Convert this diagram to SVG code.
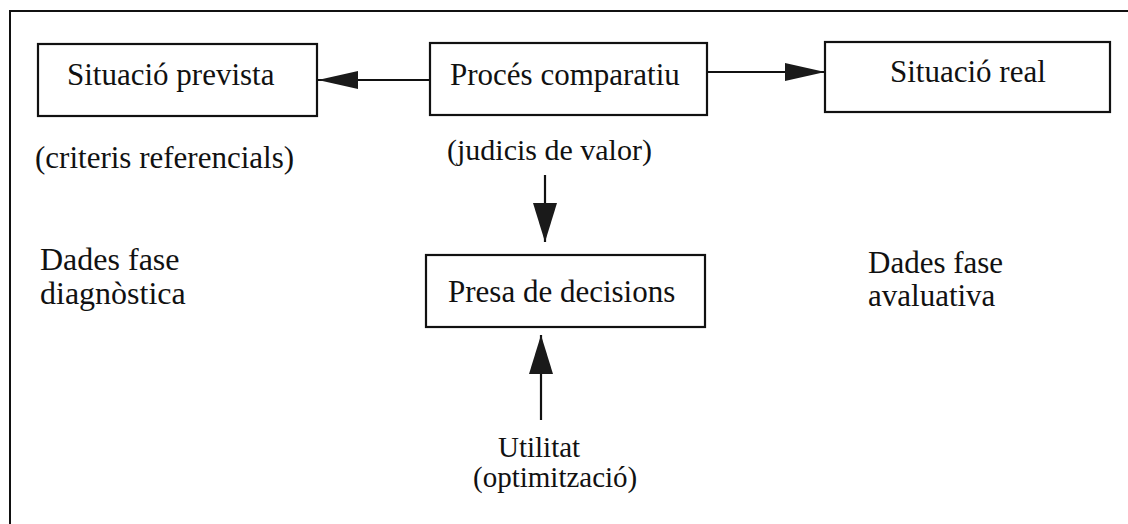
<svg xmlns="http://www.w3.org/2000/svg" width="1128" height="524" viewBox="0 0 1128 524">
  <style>
    .box { fill: #ffffff; stroke: #111111; stroke-width: 2.2; }
    .frame { fill: none; stroke: #111111; stroke-width: 2; }
    .conn { fill: none; stroke: #111111; stroke-width: 2.2; }
    .t { font-family: "Liberation Serif", "Times New Roman", serif; fill: #111111; }
    .big { font-size: 31px; }
    .mid { font-size: 30px; }
  </style>
  <defs>
    <marker id="arrowH" markerUnits="userSpaceOnUse" markerWidth="42" markerHeight="22" refX="40" refY="10" orient="auto">
      <path d="M0,1 L40,10 L0,19 Z" fill="#1a1a1a"/>
    </marker>
    <marker id="arrowV" markerUnits="userSpaceOnUse" markerWidth="42" markerHeight="26" refX="39" refY="12" orient="auto">
      <path d="M0,0 L39,12 L0,24 Z" fill="#1a1a1a"/>
    </marker>
  </defs>

  <rect width="1128" height="524" fill="#ffffff"/>

  <g id="frame">
    <path class="frame" d="M10,524 L10,11 L1128,11"/>
  </g>

  <g id="connectors">
    <line class="conn" x1="430" y1="80" x2="318" y2="80" marker-end="url(#arrowH)"/>
    <line class="conn" x1="707" y1="72" x2="825" y2="72" marker-end="url(#arrowH)"/>
    <line class="conn" x1="545" y1="175" x2="545" y2="242" marker-end="url(#arrowV)"/>
    <line class="conn" x1="541" y1="420" x2="541" y2="335" marker-end="url(#arrowV)"/>
  </g>

  <g id="node-situacio-prevista">
    <rect class="box" x="38" y="44" width="279" height="72"/>
    <text class="t big" x="67" y="85">Situació prevista</text>
  </g>

  <g id="node-proces-comparatiu">
    <rect class="box" x="430" y="43" width="277" height="72"/>
    <text class="t big" x="450" y="85">Procés comparatiu</text>
  </g>

  <g id="node-situacio-real">
    <rect class="box" x="825" y="42" width="285" height="70"/>
    <text class="t big" x="890" y="82">Situació real</text>
  </g>

  <g id="node-presa-decisions">
    <rect class="box" x="426" y="255" width="279" height="72"/>
    <text class="t big" x="448" y="302">Presa de decisions</text>
  </g>

  <g id="label-criteris">
    <text class="t big" x="35" y="168">(criteris referencials)</text>
  </g>

  <g id="label-judicis">
    <text class="t mid" x="447" y="160">(judicis de valor)</text>
  </g>

  <g id="label-diagnostica">
    <text class="t" style="font-size:32px" x="40" y="270">Dades fase</text>
    <text class="t" style="font-size:32px" x="40" y="304">diagnòstica</text>
  </g>

  <g id="label-avaluativa">
    <text class="t big" x="868" y="273">Dades fase</text>
    <text class="t big" x="868" y="306">avaluativa</text>
  </g>

  <g id="label-utilitat">
    <text class="t" style="font-size:29px" x="498" y="457">Utilitat</text>
    <text class="t" style="font-size:29px" x="473" y="487">(optimització)</text>
  </g>
</svg>
